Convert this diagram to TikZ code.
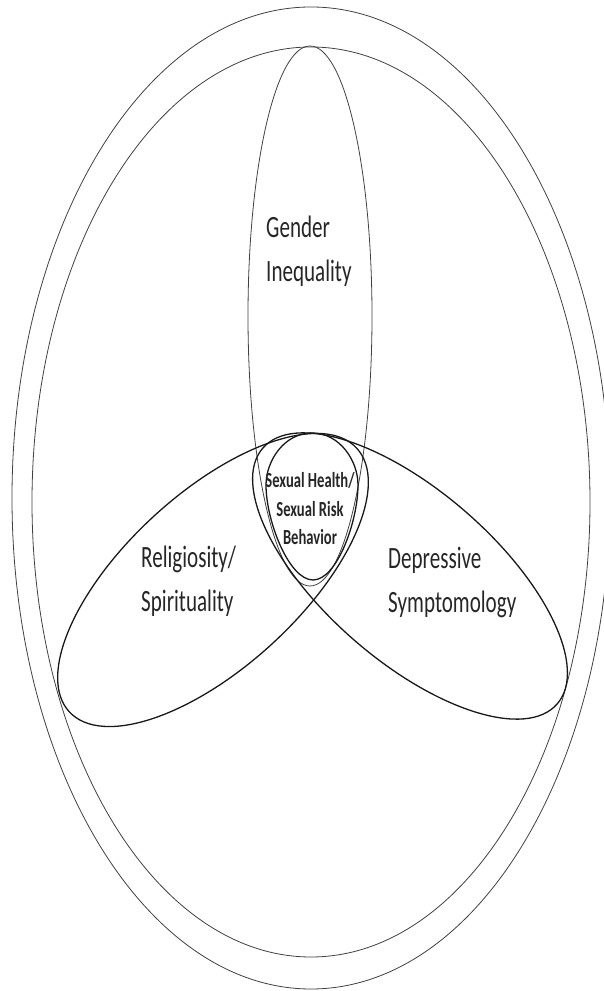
\documentclass[tikz,border=0pt]{standalone}
\usepackage{fontspec}
\setmainfont{Carlito}[FakeStretch=0.68]
\begin{document}
\begin{tikzpicture}[x=1pt,y=1pt,
  ring/.style={draw=black!75, line width=0.8pt},
  setline/.style={draw=black!90, line width=1.3pt},
  lbl/.style={font=\fontsize{31}{44}\selectfont, text=black!85, align=left, inner sep=0pt},
  core/.style={font=\fontsize{21.5}{28.5}\selectfont\bfseries, text=black!85, align=center, inner sep=0pt}]
\useasboundingbox (0,0) rectangle (603,991);
% outer rings
\draw[ring] (311,493) ellipse [x radius=299, y radius=491];
\draw[ring] (311,489) ellipse [x radius=279, y radius=455];
% gender inequality
\draw[ring] (310,675) ellipse [x radius=62, y radius=270];
% religiosity / depressive
\draw[setline, rotate around={42.5:(213,411)}] (213,411) ellipse [x radius=195, y radius=87];
\draw[setline, rotate around={-41:(410,415)}] (410,415) ellipse [x radius=195, y radius=85];
% core egg
\draw[setline] (312,558) .. controls (340,558) and (358,530) .. (358,506)
  .. controls (358,470) and (337,411) .. (313,411)
  .. controls (289,411) and (266,470) .. (266,506)
  .. controls (266,530) and (284,558) .. (312,558);
% labels (anchor = baseline of the last line)
\node[lbl, anchor=base west] (gender) at (266,709) {Gender\\Inequality};
\node[lbl, anchor=base west] (relig) at (141,379) {Religiosity/\\Spirituality};
\node[lbl, anchor=base west] (depr) at (388,378) {Depressive\\Symptomology};
\node[core, anchor=base] (core) at (310,446) {Sexual Health/\\Sexual Risk\\Behavior};
\end{tikzpicture}
\end{document}
